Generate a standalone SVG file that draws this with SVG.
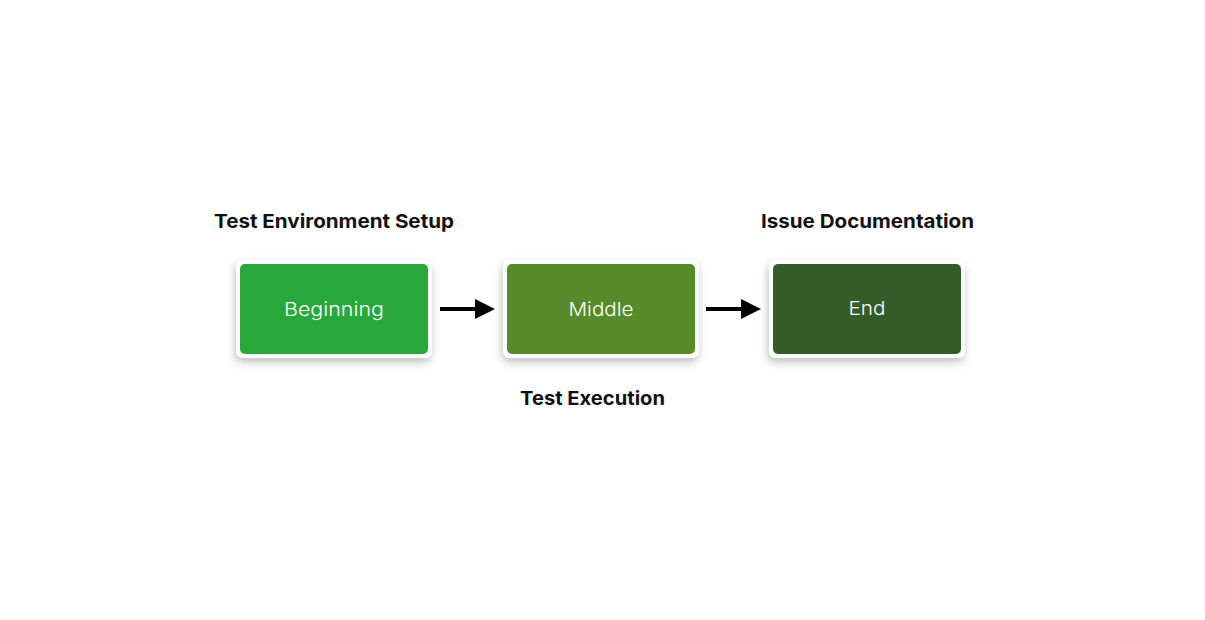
<svg xmlns="http://www.w3.org/2000/svg" width="1205" height="620" viewBox="0 0 1205 620">
<style>
.lbl{font-family:Inter,"Open Sans","Liberation Sans",sans-serif;font-weight:700;font-size:19px;fill:#111;text-anchor:middle}
.nt{font-family:Inter,"Open Sans","Liberation Sans",sans-serif;font-weight:300;font-size:19px;fill:#fff;text-anchor:middle}
.frame{fill:#fff;filter:url(#sh)}
.conn{stroke:#000;stroke-width:4;fill:none}
</style>
<defs>
<filter id="sh" x="-20%" y="-30%" width="140%" height="160%">
<feDropShadow dx="-1" dy="4" stdDeviation="4" flood-color="#000" flood-opacity="0.25"/>
</filter>
<marker id="ah" markerWidth="5" markerHeight="5" refX="0.5" refY="2.5" orient="auto" markerUnits="strokeWidth">
<path d="M0,0 L5,2.5 L0,5 Z" fill="#000"/>
</marker>
</defs>
<rect width="1205" height="620" fill="#fff"/>
<g id="beginning">
<rect class="frame" x="236" y="260" width="196" height="98" rx="7"/>
<rect x="240" y="264" width="188" height="90" rx="5" fill="#28a73a"/>
<text class="nt" x="334" y="316" textLength="100" lengthAdjust="spacingAndGlyphs">Beginning</text>
</g>
<g id="middle">
<rect class="frame" x="503" y="260" width="196" height="98" rx="7"/>
<rect x="507" y="264" width="188" height="90" rx="5" fill="#568a2a"/>
<text class="nt" x="601" y="316" textLength="65" lengthAdjust="spacingAndGlyphs">Middle</text>
</g>
<g id="end">
<rect class="frame" x="769" y="260" width="196" height="98" rx="7"/>
<rect x="773" y="264" width="188" height="90" rx="5" fill="#335c28"/>
<text class="nt" x="867" y="315" textLength="37" lengthAdjust="spacingAndGlyphs">End</text>
</g>
<g id="labels">
<text class="lbl" x="334" y="228" textLength="240" lengthAdjust="spacingAndGlyphs">Test Environment Setup</text>
<text class="lbl" x="592.5" y="405" textLength="145" lengthAdjust="spacingAndGlyphs">Test Execution</text>
<text class="lbl" x="867.5" y="228" textLength="213" lengthAdjust="spacingAndGlyphs">Issue Documentation</text>
</g>
<g id="connectors">
<line class="conn" x1="440" y1="309" x2="477" y2="309" marker-end="url(#ah)"/>
<line class="conn" x1="706" y1="309" x2="743" y2="309" marker-end="url(#ah)"/>
</g>
</svg>
